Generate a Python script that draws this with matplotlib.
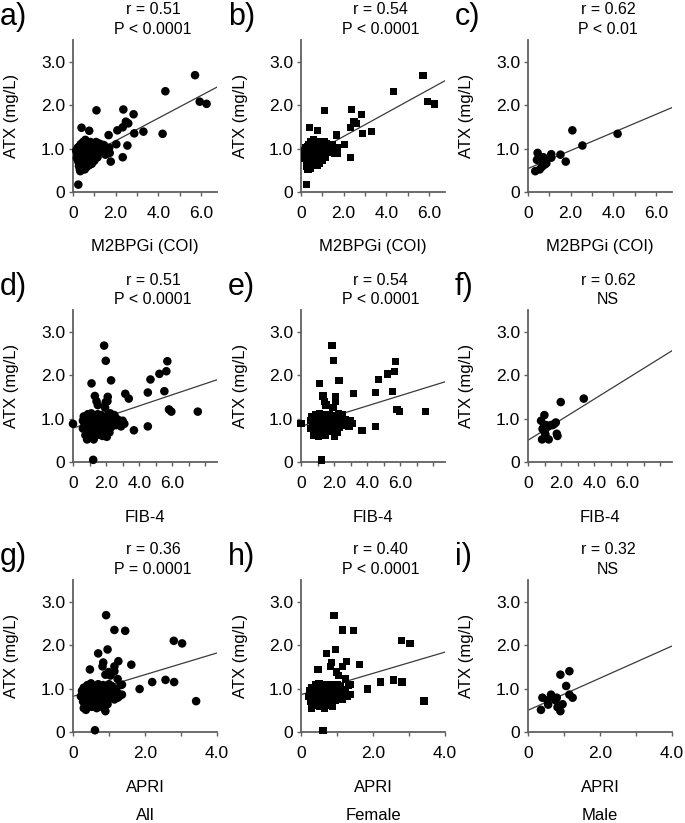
import numpy as np
import matplotlib.pyplot as plt
from matplotlib.ticker import MultipleLocator

plt.rcParams['font.family'] = ['Liberation Sans', 'DejaVu Sans']

#----------data (x, ATX mg/L)--------------------------------------------------
# M2BPGi (COI), female
fem_m2 = [(0.40, 1.48), (1.10, 1.88), (0.25, 0.17), (0.76, 1.41), (1.67, 1.31),
          (2.03, 1.10), (2.36, 1.90), (2.33, 1.49), (2.48, 1.62), (2.59, 1.58),
          (2.33, 0.80), (2.84, 1.79), (2.87, 1.35), (3.30, 1.39), (4.33, 2.32),
          (5.72, 2.69), (5.94, 2.08), (6.26, 2.03),
          (0.15, 0.95), (0.18, 0.78), (0.20, 0.88), (0.22, 1.02), (0.25, 0.70),
          (0.25, 0.92), (0.28, 0.60), (0.30, 0.82), (0.30, 1.05), (0.32, 0.52),
          (0.33, 0.95), (0.35, 0.75), (0.36, 1.10), (0.38, 0.88), (0.40, 0.65),
          (0.40, 1.00), (0.42, 0.80), (0.45, 0.55), (0.45, 0.93), (0.47, 1.15),
          (0.50, 0.72), (0.50, 1.05), (0.52, 0.85), (0.55, 0.62), (0.55, 0.98),
          (0.58, 1.20), (0.60, 0.78), (0.60, 0.90), (0.62, 1.08), (0.65, 0.68),
          (0.65, 1.00), (0.68, 0.85), (0.70, 0.95), (0.72, 1.12), (0.75, 0.62),
          (0.75, 0.80), (0.78, 1.02), (0.80, 0.70), (0.80, 0.92), (0.82, 1.15),
          (0.85, 0.85), (0.88, 0.65), (0.90, 1.00), (0.90, 1.08), (0.92, 0.78),
          (0.95, 0.95), (0.98, 1.12), (1.00, 0.88), (1.00, 0.72), (1.02, 1.05),
          (1.05, 0.98), (1.08, 1.15), (1.10, 0.90), (1.12, 1.08), (1.15, 0.80),
          (1.18, 1.02), (1.20, 1.12), (1.22, 0.95), (1.25, 1.05), (1.30, 1.10),
          (1.32, 0.92), (1.35, 1.02), (1.40, 0.98), (1.45, 1.08), (1.50, 0.92),
          (1.55, 1.00), (1.60, 0.88), (1.65, 0.95), (1.72, 0.90), (1.70, 1.02)]
# M2BPGi (COI), male
male_m2 = [(0.34, 0.48), (0.42, 0.74), (0.45, 0.90), (0.50, 0.78), (0.55, 0.52),
           (0.62, 0.76), (0.65, 0.58), (0.72, 0.80), (0.78, 0.63), (0.86, 0.66),
           (1.09, 0.87), (1.09, 0.79), (1.52, 0.86), (1.77, 0.70), (2.08, 1.42),
           (2.55, 1.07), (4.20, 1.34)]

# FIB-4, female
fem_fib = [(0.00, 0.88), (0.60, 0.77), (1.12, 1.81), (1.88, 2.68), (1.98, 2.33),
           (2.04, 0.58), (1.32, 1.52), (1.42, 1.40), (1.50, 1.31), (1.94, 1.25),
           (2.10, 1.50), (2.30, 1.88), (2.08, 1.40), (3.16, 1.57), (3.68, 0.73),
           (4.52, 0.82), (4.52, 1.60), (4.68, 1.90), (5.22, 2.03), (5.52, 1.63),
           (5.64, 2.09), (5.70, 2.32), (5.80, 1.21), (5.94, 1.16), (7.54, 1.16),
           (1.22, 0.05),
           (0.60, 0.95), (0.65, 1.05), (0.70, 0.85), (0.75, 0.62), (0.80, 1.00),
           (0.85, 0.78), (0.90, 0.92), (0.90, 1.10), (0.95, 0.70), (1.00, 0.85),
           (1.00, 1.02), (1.05, 0.58), (1.05, 0.95), (1.10, 0.78), (1.10, 1.12),
           (1.15, 0.88), (1.20, 0.68), (1.20, 1.00), (1.25, 0.82), (1.25, 1.08),
           (1.30, 0.92), (1.35, 0.72), (1.35, 1.02), (1.40, 0.85), (1.45, 0.62),
           (1.45, 0.97), (1.50, 1.10), (1.55, 0.80), (1.55, 0.90), (1.60, 1.02),
           (1.65, 0.75), (1.70, 0.88), (1.70, 1.08), (1.75, 0.95), (1.80, 0.70),
           (1.85, 0.82), (1.90, 1.00), (1.95, 0.90), (2.00, 0.76), (2.05, 1.06),
           (2.10, 0.85), (2.15, 0.95), (2.20, 0.68), (2.25, 1.12), (2.30, 0.80),
           (2.35, 1.00), (2.45, 0.92), (2.50, 1.08), (2.60, 0.85), (2.70, 0.98),
           (2.80, 0.90), (2.90, 0.82), (3.00, 0.95), (3.10, 0.88)]
# FIB-4, male
male_fib = [(0.79, 0.95), (0.85, 0.52), (0.93, 0.79), (0.99, 0.70), (0.99, 1.08),
            (1.09, 0.85), (1.05, 0.64), (1.19, 0.81), (1.25, 0.52), (1.39, 0.85),
            (1.49, 0.85), (1.60, 0.88), (1.68, 0.91), (1.74, 0.65), (1.78, 0.60),
            (1.98, 1.38), (3.37, 1.46), (0.88, 0.76)]

# APRI, female
fem_apri = [(0.61, 0.04), (0.47, 1.44), (0.70, 1.81), (0.92, 2.69), (1.15, 2.35),
            (1.45, 2.33), (0.96, 1.90), (0.82, 1.51), (0.84, 1.60), (0.99, 1.38),
            (1.04, 1.30), (1.15, 1.51), (1.26, 1.63), (1.62, 1.55), (1.24, 1.22),
            (1.36, 1.09), (1.85, 0.99), (2.20, 1.15), (2.57, 1.20), (2.80, 2.10),
            (3.03, 2.04), (2.81, 1.15), (3.42, 0.71), (1.36, 0.86),
            (0.22, 0.82), (0.25, 0.95), (0.28, 0.70), (0.30, 0.55), (0.30, 1.02),
            (0.33, 0.88), (0.35, 0.62), (0.36, 0.78), (0.38, 0.98), (0.40, 1.08),
            (0.42, 0.72), (0.44, 0.90), (0.46, 0.65), (0.48, 1.00), (0.50, 0.82),
            (0.50, 1.12), (0.52, 0.58), (0.55, 0.95), (0.56, 0.75), (0.58, 1.05),
            (0.60, 0.85), (0.62, 0.68), (0.64, 0.98), (0.66, 0.55), (0.68, 0.90),
            (0.70, 1.10), (0.72, 0.78), (0.74, 0.62), (0.75, 1.00), (0.78, 0.85),
            (0.80, 0.70), (0.82, 0.95), (0.84, 1.08), (0.86, 0.78), (0.88, 0.60),
            (0.90, 0.90), (0.92, 1.02), (0.95, 0.72), (0.98, 0.85), (1.00, 1.10),
            (1.02, 0.96), (1.05, 0.80), (1.08, 1.05), (1.10, 0.88), (1.15, 0.75),
            (1.18, 0.98), (1.22, 0.92), (1.28, 0.82), (1.32, 1.08)]
# APRI, male
male_apri = [(0.36, 0.51), (0.40, 0.79), (0.56, 0.63), (0.54, 0.73), (0.64, 0.86),
             (0.76, 0.73), (0.80, 0.79), (0.82, 0.57), (0.90, 0.48), (0.90, 1.32),
             (0.96, 0.64), (1.06, 1.06), (1.15, 1.40), (1.15, 0.86), (1.24, 0.79)]

# regression lines (intercept, slope) as drawn
fit_int = [0.66, 0.74, 0.54, 0.78, 0.82, 0.50, 0.82, 0.86, 0.50]
fit_slope = [0.26, 0.27, 0.208, 0.128, 0.118, 0.237, 0.25, 0.245, 0.37]
fit_x0 = [0.25, 0.25, 0.0, 0.0, 0.0, 0.0, 0.0, 0.0, 0.0]

r_text = ['r = 0.51', 'r = 0.54', 'r = 0.62',
          'r = 0.51', 'r = 0.54', 'r = 0.62',
          'r = 0.36', 'r = 0.40', 'r = 0.32']
p_text = ['P < 0.0001', 'P < 0.0001', 'P < 0.01',
          'P < 0.0001', 'P < 0.0001', 'NS',
          'P = 0.0001', 'P < 0.0001', 'NS']
letters = ['a)', 'b)', 'c)', 'd)', 'e)', 'f)', 'g)', 'h)', 'i)']
xlabels = ['M2BPGi (COI)', 'FIB-4', 'APRI']
groups = ['All', 'Female', 'Male']
xlims = [6.75, 8.7, 4.0]
xticks = [[0, 2.0, 4.0, 6.0], [0, 2.0, 4.0, 6.0], [0, 2.0, 4.0]]
xticklabels = [['0', '2.0', '4.0', '6.0'], ['0', '2.0', '4.0', '6.0'], ['0', '2.0', '4.0']]

data = [[fem_m2 + male_m2, fem_m2, male_m2],
        [fem_fib + male_fib, fem_fib, male_fib],
        [fem_apri + male_apri, fem_apri, male_apri]]
markers = ['o', 's', 'o']
msize = [38, 28, 38]

#----------figure layout (pixels)---------------------------------------------
W, H = 685, 823
fig = plt.figure(figsize=(W / 100, H / 100), dpi=100)
lefts = [73, 301, 528]
tops = [40, 310, 580]
aw, ah = 144, 152

for row in range(3):
    for col in range(3):
        k = row * 3 + col
        ax = fig.add_axes([lefts[col] / W, 1 - (tops[row] + ah) / H, aw / W, ah / H])
        pts = np.array(data[row][col])
        ax.scatter(pts[:, 0], pts[:, 1], s=msize[col], marker=markers[col],
                   color='black', edgecolors='none', zorder=3, clip_on=False)
        xe = np.array([fit_x0[k], xlims[row]])
        ax.plot(xe, fit_int[k] + fit_slope[k] * xe, color='#3a3a3a', lw=0.9, zorder=2)

        ax.set_xlim(0, xlims[row])
        ax.set_ylim(0, 3.5)
        for s in ['top', 'right']:
            ax.spines[s].set_visible(False)
        for s in ['left', 'bottom']:
            ax.spines[s].set_color('#606060')
            ax.spines[s].set_linewidth(1.3)
        ax.set_yticks([0, 1, 2, 3])
        ax.set_yticklabels(['0', '1.0', '2.0', '3.0'])
        ax.set_xticks(xticks[row])
        ax.set_xticklabels(xticklabels[row])
        ax.xaxis.set_minor_locator(MultipleLocator(1.0))
        ax.tick_params(axis='both', which='both', direction='out', length=3,
                       width=1, color='#606060', labelsize=12.5)
        ax.tick_params(axis='x', pad=7)
        ax.tick_params(axis='y', pad=2.5)

        ax.set_ylabel('ATX (mg/L)', fontsize=12, va='center')
        ax.yaxis.set_label_coords(-61 / aw, 0.5)
        ax.set_xlabel(xlabels[row], fontsize=12, va='center')
        ax.xaxis.set_label_coords(0.5, -55 / ah)

        ax.text(0.555, 1 + 30 / ah, r_text[k], transform=ax.transAxes,
                ha='center', va='center', fontsize=11.5)
        ax.text(0.555, 1 + 11 / ah, p_text[k], transform=ax.transAxes,
                ha='center', va='center', fontsize=11.5)
        fig.text((lefts[col] - 73) / W, 1 - (tops[row] - 38) / H, letters[k],
                 ha='left', va='top', fontsize=22)
        if row == 2:
            ax.text(0.5, -84 / ah, groups[col], transform=ax.transAxes,
                    ha='center', va='center', fontsize=12)

plt.savefig('out.png', dpi=100)
